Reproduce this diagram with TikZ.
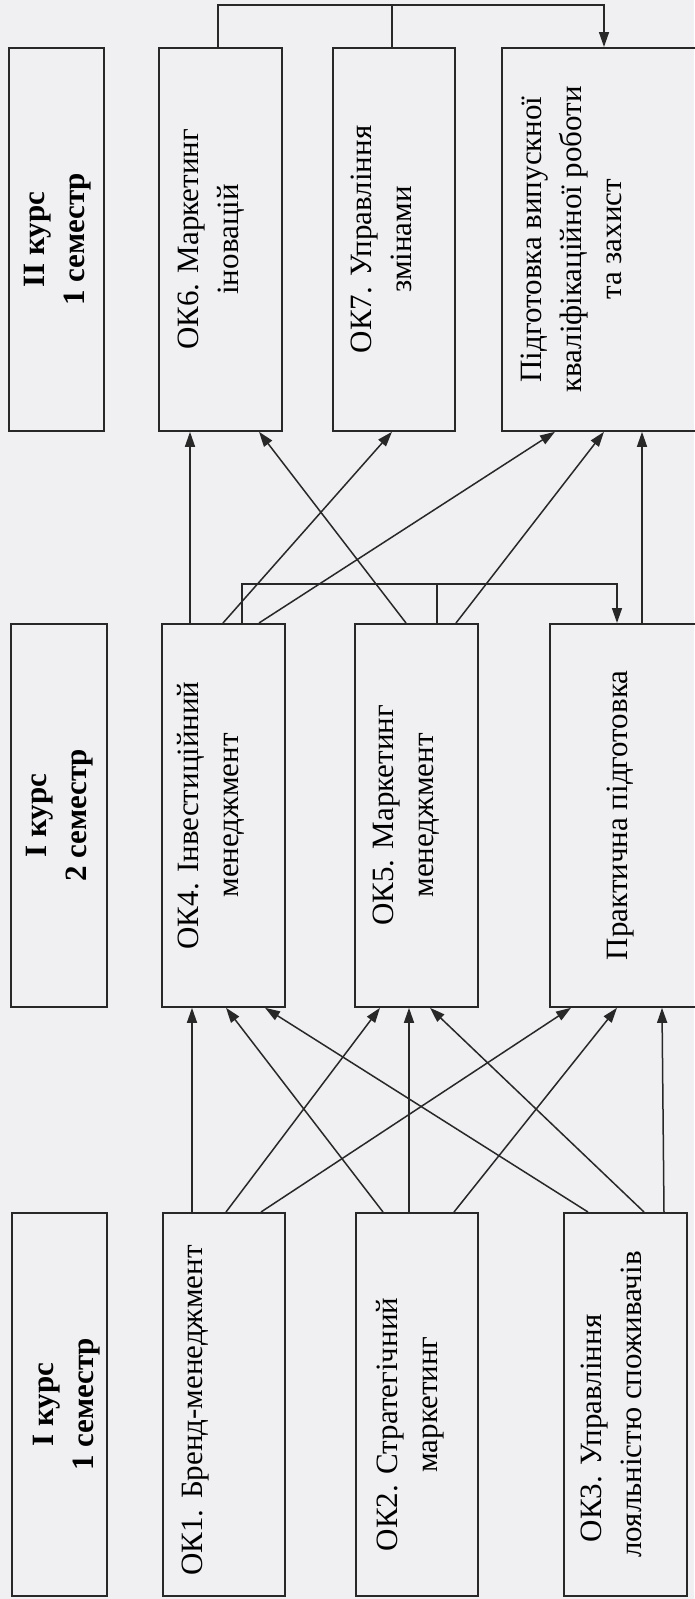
\documentclass[tikz,border=0pt]{standalone}
\usepackage{graphicx}
\usepackage{fontspec}
\setmainfont{Liberation Serif}
\usetikzlibrary{arrows.meta,positioning}
\definecolor{paper}{RGB}{240,240,243}
\definecolor{ink}{RGB}{40,40,40}
\newcommand{\vtext}[2][22pt]{\rotatebox{90}{\begin{tabular}{@{}c@{}}#2\end{tabular}}\hspace*{#1}}

\begin{document}
\begin{tikzpicture}[x=1pt,y=1pt,>={Triangle[length=15pt,width=10pt]}]
	\tikzstyle{box}=[draw=ink,line width=1.8pt,minimum height=383pt,inner sep=0pt,anchor=north west,font=\fontsize{31}{40}\selectfont]
	\tikzstyle{link}=[draw=ink,line width=1.5pt]
	\useasboundingbox (0,0) rectangle (694,-1599);
	\fill[paper] (0,0) rectangle (694,-1599);
		\node[box,minimum width=95pt] (sem3) at (8,-47) {\vtext[0pt]{\textbf{II курс}\\\textbf{1 семестр}}};
		\node[box,minimum width=123pt] (ok6) at (158,-47) {\vtext[20pt]{ОК6. Маркетинг\\іновацій}};
		\node[box,minimum width=122pt] (ok7) at (332,-47) {\vtext[21pt]{ОК7. Управління\\змінами}};
		\node[box,minimum width=230pt] (pidg) at (501,-47) {\vtext[87pt]{Підготовка випускної\\кваліфікаційної роботи\\та захист}};
		\node[box,minimum width=96pt] (sem2) at (10,-623) {\vtext[0pt]{\textbf{I курс}\\\textbf{2 семестр}}};
		\node[box,minimum width=123pt] (ok4) at (161,-623) {\vtext[26pt]{ОК4. Інвестиційний\\менеджмент}};
		\node[box,minimum width=123pt] (ok5) at (354,-623) {\vtext[22pt]{ОК5. Маркетинг\\менеджмент}};
		\node[box,minimum width=182pt] (prakt) at (549,-623) {\vtext[43pt]{Практична підготовка}};
		\node[box,minimum width=95pt] (sem1) at (11,-1212) {\vtext[-12pt]{\textbf{I курс}\\\textbf{1 семестр}}};
		\node[box,minimum width=122pt] (ok1) at (162,-1212) {\vtext[59pt]{ОК1. Бренд-менеджмент\hspace*{12pt}}};
		\node[box,minimum width=122pt] (ok2) at (355,-1212) {\vtext[15pt]{ОК2. Стратегічний\hspace*{40pt}\\маркетинг}};
		\node[box,minimum width=123pt] (ok3) at (563,-1212) {\vtext[24pt]{ОК3. Управління\hspace*{48pt}\\лояльністю споживачів}};
			\draw[link,->] (218,0 |- ok6.north) -- (218,-5) -- (604,-5) -- (604,0 |- pidg.north);
			\draw[link] (392,0 |- ok7.north) -- (392,-5);
			\draw[link,->] (190,0 |- ok4.north) -- (190,0 |- ok6.south);
			\draw[link,->] (223,0 |- ok4.north) -- (392,0 |- ok7.south);
			\draw[link,->] (259,0 |- ok4.north) -- (555,0 |- pidg.south);
			\draw[link,->] (406,0 |- ok5.north) -- (259,0 |- ok6.south);
			\draw[link,->] (456,0 |- ok5.north) -- (604,0 |- pidg.south);
			\draw[link,->] (642,0 |- prakt.north) -- (642,0 |- pidg.south);
			\draw[link,->] (242,0 |- ok4.north) -- (242,-584) -- (617,-584) -- (617,0 |- prakt.north);
			\draw[link] (437,0 |- ok5.north) -- (437,-584);
			\draw[link,->] (192,0 |- ok1.north) -- (192,0 |- ok4.south);
			\draw[link,->] (226,0 |- ok1.north) -- (380,0 |- ok5.south);
			\draw[link,->] (261,0 |- ok1.north) -- (571,0 |- prakt.south);
			\draw[link,->] (383,0 |- ok2.north) -- (226,0 |- ok4.south);
			\draw[link,->] (409,0 |- ok2.north) -- (409,0 |- ok5.south);
			\draw[link,->] (454,0 |- ok2.north) -- (617,0 |- prakt.south);
			\draw[link,->] (588,0 |- ok3.north) -- (265,0 |- ok4.south);
			\draw[link,->] (644,0 |- ok3.north) -- (430,0 |- ok5.south);
			\draw[link,->] (664,0 |- ok3.north) -- (662,0 |- prakt.south);
\end{tikzpicture}
\end{document}
